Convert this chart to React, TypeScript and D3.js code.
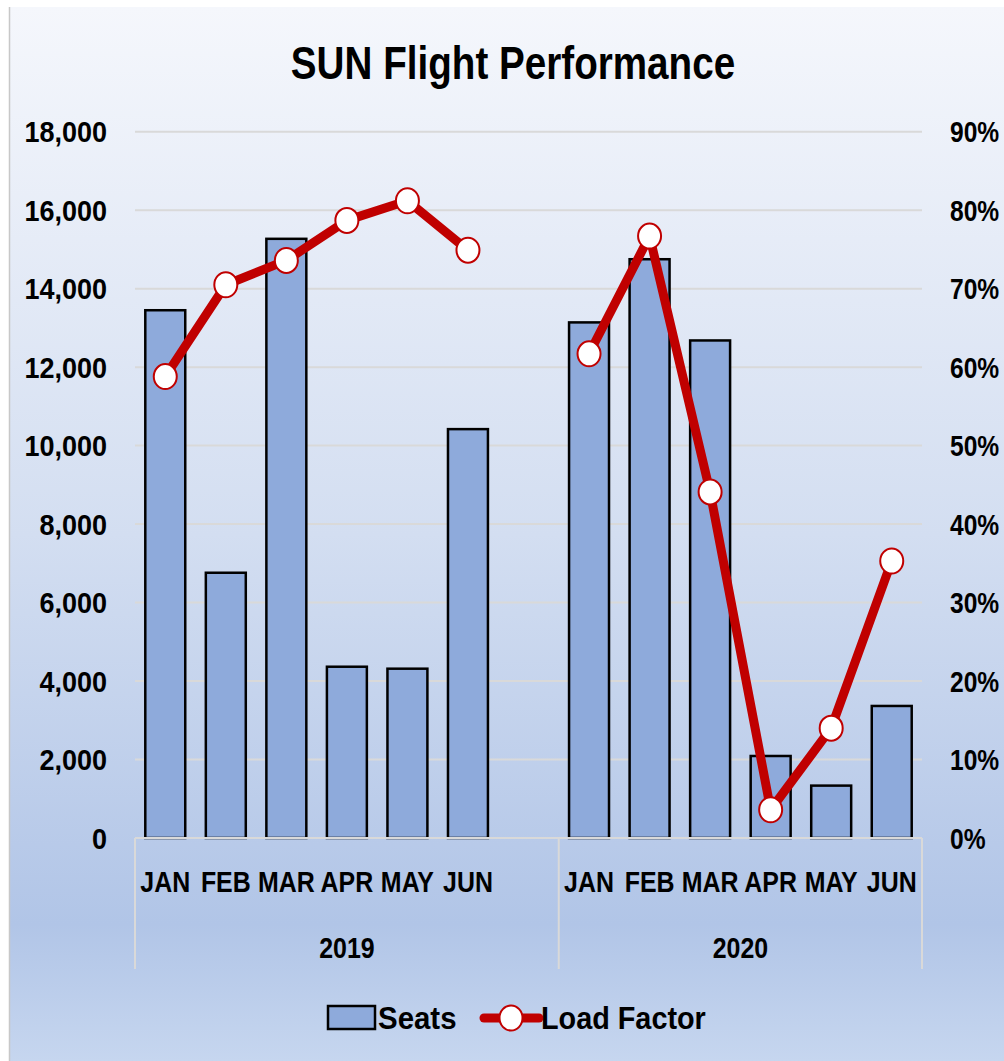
import React from 'react';
import * as d3 from 'd3';

const months = ['JAN', 'FEB', 'MAR', 'APR', 'MAY', 'JUN'];
const years = ['2019', '2020'];
const seats2019 = [13450, 6760, 15270, 4365, 4315, 10420];
const seats2020 = [13140, 14750, 12680, 2090, 1335, 3365];
const load2019 = [0.588, 0.705, 0.736, 0.787, 0.812, 0.749];
const load2020 = [0.617, 0.767, 0.441, 0.036, 0.14, 0.353];
const seatTicks = [0, 2000, 4000, 6000, 8000, 10000, 12000, 14000, 16000, 18000];
const pctTicks = [0, 0.1, 0.2, 0.3, 0.4, 0.5, 0.6, 0.7, 0.8, 0.9];

const FONT = "'Liberation Sans', Arial, sans-serif";
const W = 1004, H = 1061;
const left = 135, right = 922, top = 131.7, bottom = 838;

// 2019 gets an empty slot at the end, like the excel sheet
const keys = [
  ...months.map(m => '2019-' + m), '2019-blank',
  ...months.map(m => '2020-' + m),
];

// no calibri here, so squeeze arial a bit to get the narrow look
const T = (p: { x: number; y: number; size: number; anchor?: string; sx?: number; children: any }) => (
  <g transform={`translate(${p.x},${p.y}) scale(${p.sx ?? 0.84},1)`}>
    <text dy="0.35em" textAnchor={p.anchor || 'start'} fontSize={p.size}>{p.children}</text>
  </g>
);

const App = () => {
  const x = d3.scaleBand().domain(keys).range([left, right]).paddingInner(0.34).paddingOuter(0.17);
  const y = d3.scaleLinear().domain([0, 18000]).range([bottom, top]);
  const y2 = d3.scaleLinear().domain([0, 0.9]).range([bottom, top]);
  const fmt = d3.format(',');
  const pct = d3.format('.0%');

  const bars = [
    ...seats2019.map((v, i) => ({ k: '2019-' + months[i], v })),
    ...seats2020.map((v, i) => ({ k: '2020-' + months[i], v })),
  ];
  const lines = [
    load2019.map((v, i) => ({ k: '2019-' + months[i], v })),
    load2020.map((v, i) => ({ k: '2020-' + months[i], v })),
  ];
  const cx = (k: string) => (x(k) as number) + x.bandwidth() / 2;
  const line = d3.line<{ k: string; v: number }>().x(d => cx(d.k)).y(d => y2(d.v));

  const step = x.step();
  const groupEdges = [left, left + step * 7, right];

  return (
    <svg width={W} height={H} style={{ position: 'absolute', left: 0, top: 0 }} fontFamily={FONT} fontWeight="bold">
      <defs>
        <linearGradient id="bg" x1="0" y1="0" x2="0" y2="1">
          <stop offset="0%" stopColor="#f5f7fc" />
          <stop offset="50%" stopColor="#d3def1" />
          <stop offset="87%" stopColor="#b1c5e7" />
          <stop offset="100%" stopColor="#c6d6ef" />
        </linearGradient>
      </defs>
      <rect x={0} y={0} width={W} height={H} fill="#fff" />
      <rect x={9} y={7} width={W - 9} height={H - 7} fill="url(#bg)" />
      <line x1={9.5} x2={9.5} y1={7} y2={H} stroke="#c8c8c8" strokeWidth={1.5} />

      <T x={513} y={63} size={46} anchor="middle">SUN Flight Performance</T>

      {seatTicks.slice(1).map(t => (
        <line key={t} x1={left} x2={right} y1={y(t)} y2={y(t)} stroke="#d9d9d9" strokeWidth={2} />
      ))}
      {seatTicks.map(t => (
        <T key={t} x={107} y={y(t)} size={30} anchor="end" sx={0.9}>{fmt(t)}</T>
      ))}
      {pctTicks.map(t => (
        <T key={t} x={950} y={y2(t)} size={30} sx={0.82}>{pct(t)}</T>
      ))}

      {bars.map(b => (
        <rect key={b.k} x={x(b.k)} y={y(b.v)} width={x.bandwidth()} height={bottom - y(b.v)}
          fill="#8eaadb" stroke="#000" strokeWidth={2.5} />
      ))}

      <line x1={left} x2={right} y1={bottom} y2={bottom} stroke="#d9d9d9" strokeWidth={2} />
      {groupEdges.map(e => (
        <line key={e} x1={e} x2={e} y1={bottom} y2={969} stroke="#d9d9d9" strokeWidth={2} />
      ))}
      {bars.map(b => (
        <T key={b.k} x={cx(b.k)} y={882} size={29} anchor="middle" sx={0.86}>{b.k.slice(5)}</T>
      ))}
      {years.map((yr, i) => (
        <T key={yr} x={(groupEdges[i] + groupEdges[i + 1]) / 2} y={948} size={29} anchor="middle" sx={0.86}>{yr}</T>
      ))}

      {lines.map((l, i) => (
        <path key={i} d={line(l) || ''} fill="none" stroke="#c00000" strokeWidth={9} strokeLinejoin="round" />
      ))}
      {lines.flat().map(d => (
        <ellipse key={d.k} cx={cx(d.k)} cy={y2(d.v)} rx={11.5} ry={12.5} fill="#fff" stroke="#c00000" strokeWidth={2} />
      ))}

      <rect x={328} y={1006} width={47} height={23} fill="#8eaadb" stroke="#000" strokeWidth={2.5} />
      <T x={378} y={1018} size={32} sx={0.92}>Seats</T>
      <line x1={484} x2={539} y1={1018} y2={1018} stroke="#c00000" strokeWidth={9} strokeLinecap="round" />
      <ellipse cx={511} cy={1018} rx={11.5} ry={12.5} fill="#fff" stroke="#c00000" strokeWidth={2} />
      <T x={541} y={1018} size={32} sx={0.9}>Load Factor</T>
    </svg>
  );
};

export default App;
